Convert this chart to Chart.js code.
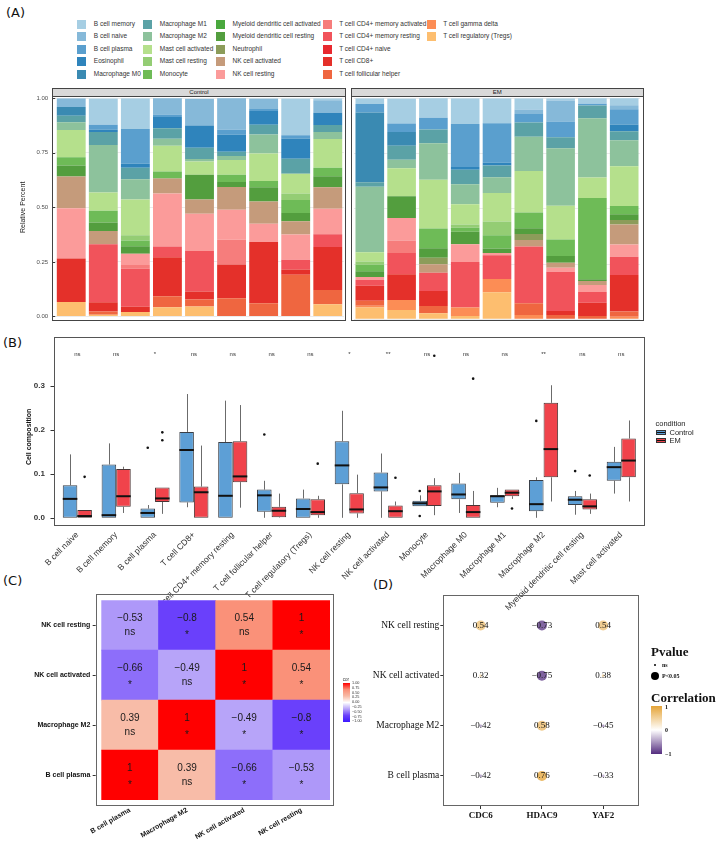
<!DOCTYPE html>
<html>
<head>
<meta charset="utf-8">
<script src="https://cdn.jsdelivr.net/npm/chart.js@4.4.1/dist/chart.umd.min.js"></script>
<style>
  body { margin: 0; background: #fff; }
  #page { position: relative; width: 717px; height: 842px; overflow: hidden; font-family: "Liberation Sans", Arial, sans-serif; }
  #page canvas { position: absolute; }
  .txt { position: absolute; white-space: nowrap; line-height: 1; }
  .tag { position: absolute; font-family: "DejaVu Sans", sans-serif; font-size: 13px; color: #111; }
  .frame { position: absolute; box-sizing: border-box; border: 1px solid #444; pointer-events: none; }
  .strip { position: absolute; box-sizing: border-box; border: 1px solid #444; background: #d9d9d9;
           font-size: 6px; color: #222; text-align: center; line-height: 7px; }
  .sw { position: absolute; width: 9px; height: 9px; }
</style>
</head>
<body>
<div id="page">
  <div class="tag" style="left:6px;top:5px">(A)</div>
  <div class="tag" style="left:3px;top:335px">(B)</div>
  <div class="tag" style="left:3px;top:573px">(C)</div>
  <div class="tag" style="left:373px;top:577px">(D)</div>

  <div class="strip" style="left:52px;top:87.7px;width:294px;height:9px">Control</div>
  <div class="strip" style="left:350.7px;top:87.7px;width:293px;height:9px">EM</div>
  <canvas id="compControl" width="350" height="240" style="left:0;top:87px"></canvas>
  <canvas id="compEM" width="300" height="240" style="left:345px;top:87px"></canvas>
  <div class="frame" style="left:52px;top:95.7px;width:294px;height:225px"></div>
  <div class="frame" style="left:350.7px;top:95.7px;width:293px;height:225px"></div>

  <canvas id="boxChart" width="650" height="290" style="left:0;top:330px"></canvas>
  <div class="frame" style="left:54px;top:337.3px;width:591px;height:189px;border-color:#555"></div>

  <canvas id="heatChart" width="345" height="257" style="left:0;top:585px"></canvas>
  <div class="frame" style="left:95.7px;top:594px;width:238.5px;height:211.5px;border-color:#666"></div>

  <canvas id="dotChart" width="285" height="257" style="left:360px;top:585px"></canvas>
  <div class="frame" style="left:443.3px;top:595px;width:196px;height:211px;border-color:#666"></div>
</div>

<script>
/* ===================== DATA ===================== */

// panel A: CIBERSORT fractions (%) per sample, in the order of cellTypes
const cellTypes = [
  "B cell memory", "B cell naive", "B cell plasma", "Eosinophil", "Macrophage M0",
  "Macrophage M1", "Macrophage M2", "Mast cell activated", "Mast cell resting", "Monocyte",
  "Myeloid dendritic cell activated", "Myeloid dendritic cell resting", "Neutrophil", "NK cell activated", "NK cell resting",
  "T cell CD4+ memory activated", "T cell CD4+ memory resting", "T cell CD4+ naive", "T cell CD8+", "T cell follicular helper",
  "T cell gamma delta", "T cell regulatory (Tregs)",
];
const cellColors = [
  "#a6cee3", "#86b9d9", "#5a9fce", "#2f84bc", "#3a8ab2",
  "#5ba2a6", "#8dc29c", "#b5e08c", "#94cd74", "#6ebb57",
  "#49a83d", "#539e3e", "#8c9c5a", "#c59b7b", "#fb9b9a",
  "#f67d7c", "#f1535b", "#e8292f", "#e4302a", "#ef6640",
  "#fc8d55", "#fdbe6f",
];
const controlSamples = [
  [0, 4, 0, 0, 4, 3, 3.5, 12.5, 0, 3.8, 0, 5, 0, 14.6, 23, 0, 0, 0, 20, 0, 0, 6.6],
  [12, 0, 2.3, 1, 0, 6, 21.8, 8.4, 0, 5.4, 0, 3.9, 0, 6, 0, 0, 26.6, 0, 4.2, 1.5, 0, 0.8],
  [14.1, 0, 15.9, 1.8, 0, 5.3, 9.3, 16.4, 2.4, 2.6, 0, 3.5, 0, 0, 5.1, 1.8, 17.4, 0, 2.4, 0, 0, 2],
  [0, 7.5, 1.2, 5.1, 0, 4.8, 3.2, 11.9, 0, 2.9, 0, 0.3, 0, 6.9, 24.2, 0, 5, 0, 17.9, 5, 0, 4.2],
  [0, 12.3, 0, 10.2, 0, 5.1, 1.2, 6, 0, 0, 0, 11.4, 0, 6.5, 17.1, 0, 18.6, 0, 3.6, 3.3, 0, 4.5],
  [0, 14.6, 2.3, 7.8, 0, 2, 1.8, 6.8, 0, 3.3, 0, 2.3, 0, 10.4, 13.8, 11.3, 0, 0, 15.5, 8.3, 0, 0],
  [0, 4.8, 0.9, 6.3, 0, 4.5, 8.7, 12.6, 0, 2.9, 0, 6.5, 0, 10.2, 8.4, 0, 0, 0, 28.1, 6, 0, 0],
  [16.8, 0, 1.5, 9.3, 0, 6.9, 0, 9, 3, 6, 0, 3.8, 0, 6, 11.6, 0, 4.5, 0, 2.4, 19.1, 0, 0],
  [0.9, 5.7, 0, 5.6, 0, 3.3, 3.2, 13.1, 0, 3.9, 0, 5.1, 0, 9.8, 11.7, 0, 5.9, 0, 19.7, 6.5, 0, 5.6],
];
const emSamples = [
  [2.6, 0, 3.8, 0, 31.6, 2, 29.7, 4.1, 1.5, 3, 0, 2.6, 0, 0, 1.2, 0, 2.7, 0, 6.8, 2.3, 0.8, 5.3],
  [11.3, 0, 3.8, 0, 6.3, 6.3, 3.9, 12.6, 0, 0, 0, 9.9, 0, 0, 10.1, 5.7, 9.6, 0, 11.7, 0, 4.5, 4.2],
  [8.9, 0, 5.3, 0, 0, 6.2, 16.5, 22.1, 0, 9, 0, 4.2, 3, 3.8, 0, 0, 8.3, 0, 6.8, 3.3, 0, 2.7],
  [11.6, 0, 19.5, 1.2, 0, 6.6, 9, 9.2, 1.5, 1.8, 0, 5.6, 0, 0, 8.1, 0, 20.6, 0, 0, 0, 3.8, 1.5],
  [11.3, 0, 17.9, 1.2, 0, 5.3, 7.1, 12.9, 6.3, 6, 0, 2, 0, 0, 1, 0, 10.8, 0, 0, 0, 6, 12.2],
  [5.1, 2, 3.8, 0, 0, 6.5, 15.5, 18.8, 0, 7.1, 0, 2.6, 2.7, 3, 0, 0, 25.6, 0, 0, 5.3, 2, 0],
  [1, 9.5, 7.1, 0, 0, 5, 26, 15.3, 0, 7.5, 0, 3, 0, 2.3, 1.8, 0, 17.7, 0, 1.8, 2, 0, 0],
  [2.6, 0, 0.8, 0, 0, 5.7, 26.8, 9.3, 0, 36.8, 0, 0.8, 0, 1.8, 3.2, 0, 4.8, 0, 6, 1.5, 0, 0],
  [3.3, 1.8, 6.9, 3, 0, 4.1, 11.7, 18, 0, 3.8, 0, 2.6, 2, 9, 5.6, 0, 8.3, 0, 16.5, 2.3, 1.2, 0],
];
const compTicks = [0, 0.25, 0.5, 0.75, 1];

// panel B: [lower whisker, Q1, median, Q3, upper whisker]
const boxCells = [
  "B cell naive", "B cell memory", "B cell plasma", "T cell CD8+", "T cell CD4+ memory resting",
  "T cell follicular helper", "T cell regulatory (Tregs)", "NK cell resting", "NK cell activated", "Monocyte",
  "Macrophage M0", "Macrophage M1", "Macrophage M2", "Myeloid dendritic cell resting", "Mast cell activated",
];
const boxSig = ["ns", "ns", "*", "ns", "ns", "ns", "ns", "*", "**", "ns", "ns", "ns", "**", "ns", "ns"];
const controlBox = [
  [0, 0, 0.043, 0.074, 0.144], [0, 0, 0.006, 0.121, 0.169], [0, 0, 0.011, 0.021, 0.029],
  [0.024, 0.035, 0.154, 0.195, 0.281], [0, 0, 0.05, 0.172, 0.266], [0, 0.014, 0.051, 0.064, 0.084],
  [0, 0, 0.02, 0.044, 0.064], [0, 0.076, 0.119, 0.174, 0.243], [0, 0.06, 0.069, 0.103, 0.146],
  [0.026, 0.026, 0.033, 0.039, 0.051], [0.011, 0.042, 0.053, 0.078, 0.102], [0.024, 0.034, 0.049, 0.051, 0.068],
  [0, 0.015, 0.031, 0.086, 0.092], [0.007, 0.029, 0.041, 0.049, 0.061], [0.055, 0.084, 0.115, 0.127, 0.161],
];
const emBox = [
  [0, 0, 0.004, 0.018, 0.018], [0.011, 0.025, 0.049, 0.111, 0.116], [0.009, 0.036, 0.044, 0.069, 0.069],
  [0, 0, 0.058, 0.071, 0.164], [0.023, 0.081, 0.094, 0.174, 0.256], [0, 0.001, 0.016, 0.025, 0.055],
  [0, 0.006, 0.013, 0.042, 0.05], [0, 0.01, 0.019, 0.056, 0.098], [0, 0, 0.015, 0.028, 0.037],
  [0.006, 0.027, 0.06, 0.074, 0.09], [0, 0, 0.013, 0.029, 0.061], [0.043, 0.049, 0.057, 0.064, 0.064],
  [0.037, 0.092, 0.156, 0.261, 0.301], [0.009, 0.019, 0.026, 0.042, 0.055], [0.037, 0.092, 0.13, 0.18, 0.221],
];
const controlOutliers = [[], [], [0.159], [], [], [0.189], [], [], [], [0.061, 0.004], [], [], [0.22], [0.106], []];
const emOutliers = [[0.093], [], [0.194, 0.176], [], [], [], [0.123], [], [0.091], [0.368], [0.316], [0.021], [], [0.096], []];
const boxTicks = [0, 0.1, 0.2, 0.3];

// panel C: correlation matrix, rows bottom -> top
const heatCells = ["B cell plasma", "Macrophage M2", "NK cell activated", "NK cell resting"];
const heatCorr = [
  [1, 0.39, -0.66, -0.53],
  [0.39, 1, -0.49, -0.8],
  [-0.66, -0.49, 1, 0.54],
  [-0.53, -0.8, 0.54, 1],
];
const heatSig = [
  ["*", "ns", "*", "*"],
  ["ns", "*", "*", "*"],
  ["*", "ns", "*", "*"],
  ["ns", "*", "ns", "*"],
];

// panel D: gene vs immune cell correlation, rows bottom -> top
const dotGenes = ["CDC6", "HDAC9", "YAF2"];
const dotCells = ["B cell plasma", "Macrophage M2", "NK cell activated", "NK cell resting"];
const dotCorr = [
  [-0.42, 0.76, -0.33],
  [-0.42, 0.58, -0.45],
  [0.32, -0.75, 0.38],
  [0.54, -0.73, 0.54],
];
const dotSig = [
  [false, true, false],
  [false, true, false],
  [false, true, false],
  [true, true, true],
];

/* ===================== HELPERS ===================== */

Chart.defaults.font.family = '"Liberation Sans", Arial, sans-serif';
const page = document.getElementById("page");

function addText(text, x, y, css) {
  const d = document.createElement("div");
  d.className = "txt";
  d.textContent = text;
  d.style.left = x + "px";
  d.style.top = y + "px";
  Object.assign(d.style, css || {});
  page.appendChild(d);
  return d;
}

function mix(c1, c2, t) {
  return "rgb(" + c1.map((v, i) => Math.round(v + (c2[i] - v) * t)).join(",") + ")";
}

function rampColor(stops, v) {
  for (let i = 1; i < stops.length; i++) {
    if (v <= stops[i][0]) {
      const t = (v - stops[i - 1][0]) / (stops[i][0] - stops[i - 1][0]);
      return mix(stops[i - 1][1], stops[i][1], t);
    }
  }
  return mix(stops[stops.length - 1][1], stops[stops.length - 1][1], 0);
}

const heatStops = [
  [-1, [60, 24, 255]], [-0.8, [106, 64, 251]], [-0.5, [182, 162, 249]],
  [0, [255, 255, 255]], [0.4, [248, 186, 166]], [0.55, [250, 142, 118]], [1, [255, 0, 0]],
];
const dotStops = [[-1, [84, 45, 127]], [0, [255, 255, 255]], [1, [229, 164, 55]]];

const fmt = (v) => (v < 0 ? "\u2212" + Math.abs(v) : String(v));

// ggplot-style tick marks sitting left of the plot frame
function yTickMarks(gap, len) {
  return {
    id: "yTickMarks",
    afterDraw(chart) {
      const { ctx, chartArea } = chart;
      const ys = chart.scales.y;
      ctx.save();
      ctx.strokeStyle = "#333";
      ctx.lineWidth = 1;
      ys.ticks.forEach((t) => {
        const y = Math.round(ys.getPixelForValue(t.value)) + 0.5;
        ctx.beginPath();
        ctx.moveTo(chartArea.left - gap - len, y);
        ctx.lineTo(chartArea.left - gap, y);
        ctx.stroke();
      });
      ctx.restore();
    },
  };
}

/* ===================== PANEL A ===================== */

cellTypes.forEach((name, k) => {
  const col = Math.floor(k / 5);
  const row = k % 5;
  const xs = [77.3, 143.3, 216, 322.7, 426.7];
  const y = 19.5 + row * 12.5;
  const sw = document.createElement("div");
  sw.className = "sw";
  sw.style.left = xs[col] + "px";
  sw.style.top = y + "px";
  sw.style.background = cellColors[k];
  page.appendChild(sw);
  addText(name, xs[col] + 16.5, y + 1.3, { fontSize: "6.5px", color: "#333" });
});

function compChart(id, samples, withAxis, yWidth, padRight) {
  const datasets = cellTypes
    .map((name, k) => ({
      label: name,
      data: samples.map((s) => s[k] / 100),
      backgroundColor: cellColors[k],
      borderWidth: 0,
    }))
    .reverse();

  return new Chart(document.getElementById(id), {
    type: "bar",
    data: { labels: samples.map((_, i) => id + i), datasets },
    options: {
      responsive: false,
      animation: false,
      devicePixelRatio: 1,
      layout: { padding: { top: 11.3, bottom: 7.7, left: 0, right: padRight } },
      datasets: { bar: { barPercentage: 0.9, categoryPercentage: 1 } },
      plugins: { legend: { display: false }, tooltip: { enabled: false } },
      scales: {
        x: { stacked: true, display: false },
        y: {
          stacked: true,
          min: 0,
          max: 1,
          afterBuildTicks: (s) => { s.ticks = compTicks.map((v) => ({ value: v })); },
          afterFit: (s) => { s.width = yWidth; },
          border: { display: false },
          grid: { color: "#ebebeb", drawTicks: false },
          ticks: {
            display: withAxis,
            padding: 7,
            color: "#4d4d4d",
            font: { size: 6 },
            callback: (v) => v.toFixed(2),
          },
          title: {
            display: withAxis,
            text: "Relative Percent",
            color: "#222",
            font: { size: 7 },
            padding: { top: 19, bottom: 0 },
          },
        },
      },
    },
    plugins: withAxis ? [yTickMarks(0, 3)] : [],
  });
}

compChart("compControl", controlSamples, true, 55.2, 6.2);
compChart("compEM", emSamples, false, 8.9, 4.9);

/* ===================== PANEL B ===================== */

const boxFill = { Control: "#5d9fd6", EM: "#f0434b" };

const boxExtras = {
  id: "boxExtras",
  beforeDatasetsDraw(chart) {
    const { ctx } = chart;
    const y = chart.scales.y;
    ctx.save();
    ctx.strokeStyle = "#6b6b6b";
    ctx.lineWidth = 1;
    chart.data.datasets.forEach((ds, di) => {
      chart.getDatasetMeta(di).data.forEach((el, i) => {
        const s = ds.stats[i];
        const x = Math.round(el.x) + 0.5;
        ctx.beginPath();
        ctx.moveTo(x, y.getPixelForValue(s[0]));
        ctx.lineTo(x, y.getPixelForValue(s[1]));
        ctx.moveTo(x, y.getPixelForValue(s[3]));
        ctx.lineTo(x, y.getPixelForValue(s[4]));
        ctx.stroke();
      });
    });
    ctx.restore();
  },
  afterDatasetsDraw(chart) {
    const { ctx } = chart;
    const x = chart.scales.x;
    const y = chart.scales.y;
    ctx.save();
    chart.data.datasets.forEach((ds, di) => {
      chart.getDatasetMeta(di).data.forEach((el, i) => {
        const s = ds.stats[i];
        const my = y.getPixelForValue(s[2]);
        ctx.strokeStyle = "#111";
        ctx.lineWidth = 2;
        ctx.beginPath();
        ctx.moveTo(el.x - el.width / 2, my);
        ctx.lineTo(el.x + el.width / 2, my);
        ctx.stroke();
        ctx.fillStyle = "#111";
        ds.outliers[i].forEach((v) => {
          ctx.beginPath();
          ctx.arc(el.x, y.getPixelForValue(v), 1.3, 0, Math.PI * 2);
          ctx.fill();
        });
      });
    });
    ctx.fillStyle = "#333";
    ctx.font = '6px "Liberation Sans"';
    ctx.textAlign = "center";
    ctx.textBaseline = "middle";
    boxSig.forEach((lab, i) => {
      ctx.fillText(lab, x.getPixelForValue(i), y.getPixelForValue(0.371));
    });
    ctx.restore();
  },
};

new Chart(document.getElementById("boxChart"), {
  type: "bar",
  data: {
    labels: boxCells,
    datasets: [
      {
        label: "Control",
        data: controlBox.map((b) => [b[1], b[3]]),
        stats: controlBox,
        outliers: controlOutliers,
        backgroundColor: boxFill.Control,
        borderColor: "#3a3f47",
        borderWidth: 1,
        borderSkipped: false,
      },
      {
        label: "EM",
        data: emBox.map((b) => [b[1], b[3]]),
        stats: emBox,
        outliers: emOutliers,
        backgroundColor: boxFill.EM,
        borderColor: "#4a3535",
        borderWidth: 1,
        borderSkipped: false,
      },
    ],
  },
  options: {
    responsive: false,
    animation: false,
    devicePixelRatio: 1,
    layout: { padding: { top: 7.3, right: 9.3, left: 0, bottom: 0 } },
    datasets: { bar: { barPercentage: 1, categoryPercentage: 0.75 } },
    plugins: { legend: { display: false }, tooltip: { enabled: false } },
    scales: {
      x: {
        grid: { display: false, drawTicks: false },
        border: { display: false },
        afterFit: (s) => { s.height = 94; },
        ticks: {
          autoSkip: false,
          minRotation: 45,
          maxRotation: 45,
          padding: 4,
          color: "#333",
          font: { size: 8.5 },
        },
      },
      y: {
        min: -0.0186,
        max: 0.386,
        afterBuildTicks: (s) => { s.ticks = boxTicks.map((v) => ({ value: v })); },
        afterFit: (s) => { s.width = 57.9; },
        grid: { display: false, drawTicks: false },
        border: { display: false },
        ticks: {
          padding: 13,
          color: "#333",
          font: { size: 8, weight: "bold" },
          callback: (v) => v.toFixed(1),
        },
        title: {
          display: true,
          text: "Cell composition",
          color: "#111",
          font: { size: 7, weight: "bold" },
          padding: { top: 25, bottom: 0 },
        },
      },
    },
  },
  plugins: [boxExtras, yTickMarks(3.9, 3.5)],
});

// condition legend
addText("condition", 655.5, 420, { fontSize: "7.5px", color: "#222" });
["Control", "EM"].forEach((name, i) => {
  const y = 430 + i * 7.5;
  const sw = document.createElement("div");
  sw.style.cssText = "position:absolute;box-sizing:border-box;border:1px solid #333;width:10px;height:5px;" +
    "left:656px;top:" + y + "px;background:linear-gradient(" + boxFill[name] + " 40%, #111 40%, #111 60%, " + boxFill[name] + " 60%)";
  page.appendChild(sw);
  addText(name, 669.5, y - 1, { fontSize: "7.5px", color: "#222" });
});

/* ===================== PANEL C ===================== */

const heatText = {
  id: "heatText",
  afterDatasetsDraw(chart) {
    const { ctx } = chart;
    ctx.save();
    ctx.fillStyle = "#1a1a1a";
    ctx.textAlign = "center";
    ctx.textBaseline = "middle";
    chart.data.datasets.forEach((ds, r) => {
      chart.getDatasetMeta(r).data.forEach((el, c) => {
        const cy = (el.y + el.base) / 2;
        ctx.font = '10px "Liberation Sans"';
        ctx.fillText(fmt(heatCorr[r][c]), el.x, cy - 6.5);
        const sig = heatSig[r][c];
        ctx.fillText(sig, el.x, sig === "*" ? cy + 10 : cy + 7.5);
      });
    });
    ctx.restore();
  },
};

new Chart(document.getElementById("heatChart"), {
  type: "bar",
  data: {
    labels: heatCells,
    datasets: heatCorr.map((row) => ({
      data: row.map(() => 1),
      backgroundColor: row.map((v) => rampColor(heatStops, v)),
      borderWidth: 0,
    })),
  },
  options: {
    responsive: false,
    animation: false,
    devicePixelRatio: 1,
    layout: { padding: { top: 14, right: 15, left: 0, bottom: 0 } },
    datasets: { bar: { barPercentage: 1, categoryPercentage: 1 } },
    plugins: { legend: { display: false }, tooltip: { enabled: false } },
    scales: {
      x: {
        stacked: true,
        grid: { display: false, drawTicks: false },
        border: { display: false },
        afterFit: (s) => { s.height = 42; },
        ticks: {
          minRotation: 30,
          maxRotation: 30,
          padding: 6,
          color: "#111",
          font: { size: 7, weight: "bold" },
        },
      },
      y: {
        stacked: true,
        min: 0,
        max: 4,
        afterBuildTicks: (s) => { s.ticks = heatCells.map((_, i) => ({ value: i + 0.5 })); },
        afterFit: (s) => { s.width = 101.3; },
        grid: { display: false, drawTicks: false },
        border: { display: false },
        ticks: {
          padding: 11,
          color: "#111",
          font: { size: 7, weight: "bold" },
          callback: (v, i) => heatCells[i],
        },
      },
    },
  },
  plugins: [heatText, yTickMarks(5.6, 3)],
});

// cor colour bar
const heatBar = document.createElement("div");
heatBar.style.cssText = "position:absolute;left:342.7px;top:683.3px;width:7.3px;height:38.4px;" +
  "background:linear-gradient(" + [1, 0.55, 0.4, 0, -0.5, -0.8, -1].map((v) => rampColor(heatStops, v)).join(",") + ")";
page.appendChild(heatBar);
addText("cor", 342.7, 677.5, { fontSize: "4.5px", color: "#333" });
["1.00", "0.75", "0.50", "0.25", "0.00", "\u22120.25", "\u22120.50", "\u22120.75", "\u22121.00"].forEach((t, i) => {
  addText(t, 352, 682 + i * 4.8, { fontSize: "3.8px", color: "#333" });
});

/* ===================== PANEL D ===================== */

const dotPoints = [];
dotCells.forEach((cell, r) => {
  dotGenes.forEach((gene, c) => {
    dotPoints.push({ x: c + 1, y: r + 1, v: dotCorr[r][c], sig: dotSig[r][c] });
  });
});

const dotText = {
  id: "dotText",
  afterDatasetsDraw(chart) {
    const { ctx } = chart;
    ctx.save();
    ctx.fillStyle = "#111";
    ctx.font = '9px "Liberation Serif"';
    ctx.textAlign = "center";
    ctx.textBaseline = "middle";
    chart.getDatasetMeta(0).data.forEach((el, i) => {
      ctx.fillText(fmt(dotPoints[i].v), el.x, el.y);
    });
    ctx.restore();
  },
};

new Chart(document.getElementById("dotChart"), {
  type: "scatter",
  data: {
    datasets: [
      {
        data: dotPoints,
        pointRadius: dotPoints.map((p) => (p.sig ? 5 : 1.4)),
        pointBackgroundColor: dotPoints.map((p) => rampColor(dotStops, p.v)),
        pointBorderWidth: 0,
      },
    ],
  },
  options: {
    responsive: false,
    animation: false,
    devicePixelRatio: 1,
    layout: { padding: { top: 10, right: 5.7, left: 0, bottom: 0 } },
    plugins: { legend: { display: false }, tooltip: { enabled: false } },
    scales: {
      x: {
        type: "linear",
        min: 0.39,
        max: 3.59,
        afterBuildTicks: (s) => { s.ticks = dotGenes.map((_, i) => ({ value: i + 1 })); },
        afterFit: (s) => { s.height = 36; },
        grid: { drawOnChartArea: false, drawTicks: true, tickLength: 3, color: "#333" },
        border: { display: false },
        ticks: {
          padding: 1,
          color: "#111",
          font: { family: '"Liberation Serif"', size: 9, weight: "bold" },
          callback: (v) => dotGenes[v - 1],
        },
      },
      y: {
        type: "linear",
        min: 0.4,
        max: 4.61,
        afterBuildTicks: (s) => { s.ticks = dotCells.map((_, i) => ({ value: i + 1 })); },
        afterFit: (s) => { s.width = 83.3; },
        grid: { drawOnChartArea: false, drawTicks: true, tickLength: 3, color: "#333" },
        border: { display: false },
        ticks: {
          padding: 1,
          color: "#111",
          font: { family: '"Liberation Serif"', size: 9.5 },
          callback: (v) => dotCells[v - 1],
        },
      },
    },
  },
  plugins: [dotText],
});

// Pvalue / Correlation legend
const serifBold = { fontFamily: '"Liberation Serif", serif', fontWeight: "bold", color: "#111" };
addText("Pvalue", 651, 645, Object.assign({ fontSize: "13px" }, serifBold));
[[false, "ns", 665], [true, "P<0.05", 675.5]].forEach(([sig, lab, y]) => {
  const r = sig ? 4 : 1.4;
  const dot = document.createElement("div");
  dot.style.cssText = "position:absolute;border-radius:50%;background:#000;" +
    "left:" + (655 - r) + "px;top:" + (y - r) + "px;width:" + 2 * r + "px;height:" + 2 * r + "px";
  page.appendChild(dot);
  addText(lab, 662, y - 3, Object.assign({ fontSize: "6px" }, serifBold));
});
addText("Correlation", 651, 691, Object.assign({ fontSize: "13px" }, serifBold));
const dotBar = document.createElement("div");
dotBar.style.cssText = "position:absolute;left:651px;top:706px;width:10.7px;height:48px;" +
  "background:linear-gradient(" + [1, 0, -1].map((v) => rampColor(dotStops, v)).join(",") + ")";
page.appendChild(dotBar);
[["1", 703.5], ["0", 727], ["\u22121", 751]].forEach(([t, y]) => {
  addText(t, 665, y, Object.assign({ fontSize: "6px" }, serifBold));
});
</script>
</body>
</html>
